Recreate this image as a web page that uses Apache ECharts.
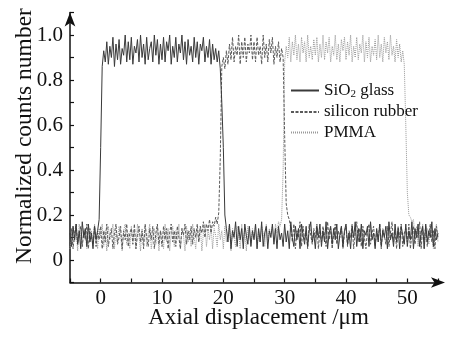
<!DOCTYPE html>
<html>
<head>
<meta charset="utf-8">
<script src="https://cdn.jsdelivr.net/npm/echarts@6/dist/echarts.min.js"></script>
<style>
html, body { margin: 0; padding: 0; background: #fff; }
#chart { width: 453px; height: 337px; }
</style>
</head>
<body>
<div id="chart"></div>
<script>
// sampling grid of the traces (µm)
const xStart = -5
const xStep = 0.25

const seriesNames = ['SiO2 glass', 'silicon rubber', 'PMMA']

// each row = 5 µm (20 samples), last value at 55 µm
const sio2Glass = [
  0.12,0.06,0.15,0.09,0.16,0.07,0.13,0.05,0.17,0.10,0.14,0.06,0.16,0.08,0.12,0.05,0.15,0.09,0.13,0.18,
  0.50,0.86,0.93,0.88,0.97,0.87,0.95,0.90,0.99,0.86,0.96,0.89,0.98,0.87,0.94,0.91,1.00,0.88,0.97,0.89,
  0.99,0.87,0.95,0.92,0.98,0.88,1.00,0.90,0.96,0.87,0.99,0.89,0.94,0.97,0.88,1.00,0.91,0.98,0.87,0.96,
  0.89,0.99,0.88,0.97,0.93,1.00,0.87,0.95,0.90,0.99,0.88,0.96,0.92,1.00,0.89,0.97,0.87,0.98,0.91,0.95,
  0.88,0.99,0.90,0.97,0.87,0.96,0.93,0.99,0.88,0.95,0.90,0.98,0.87,0.96,0.89,0.94,0.88,0.93,0.85,0.70,
  0.50,0.20,0.14,0.08,0.16,0.05,0.13,0.10,0.17,0.06,0.15,0.09,0.14,0.05,0.16,0.11,0.07,0.15,0.06,0.13,
  0.09,0.16,0.05,0.14,0.08,0.17,0.06,0.12,0.15,0.05,0.13,0.10,0.16,0.07,0.14,0.05,0.15,0.09,0.12,0.06,
  0.16,0.08,0.13,0.05,0.17,0.10,0.06,0.15,0.09,0.14,0.05,0.16,0.11,0.07,0.15,0.06,0.13,0.17,0.08,0.12,
  0.05,0.15,0.10,0.16,0.06,0.13,0.08,0.17,0.05,0.12,0.15,0.07,0.14,0.09,0.16,0.05,0.11,0.15,0.06,0.13,
  0.16,0.07,0.12,0.05,0.15,0.10,0.17,0.06,0.14,0.08,0.16,0.05,0.13,0.11,0.15,0.06,0.17,0.09,0.12,0.05,
  0.14,0.08,0.16,0.06,0.13,0.10,0.15,0.05,0.17,0.09,0.12,0.06,0.16,0.08,0.14,0.05,0.15,0.11,0.07,0.16,
  0.06,0.13,0.09,0.17,0.05,0.14,0.10,0.16,0.06,0.12,0.15,0.05,0.16,0.08,0.13,0.10,0.17,0.06,0.14,0.09,
  0.12
]

const siliconRubber = [
  0.08,0.14,0.05,0.12,0.16,0.07,0.11,0.15,0.06,0.13,0.09,0.16,0.05,0.14,0.10,0.07,0.15,0.06,0.12,0.09,
  0.15,0.05,0.13,0.08,0.16,0.06,0.11,0.14,0.05,0.12,0.16,0.07,0.10,0.15,0.05,0.13,0.09,0.16,0.06,0.12,
  0.14,0.07,0.16,0.05,0.11,0.15,0.08,0.13,0.05,0.16,0.10,0.06,0.14,0.09,0.15,0.05,0.12,0.16,0.07,0.13,
  0.06,0.15,0.09,0.14,0.05,0.12,0.16,0.08,0.13,0.06,0.15,0.10,0.05,0.14,0.11,0.16,0.07,0.13,0.09,0.15,
  0.07,0.14,0.10,0.16,0.08,0.15,0.12,0.17,0.10,0.16,0.13,0.18,0.12,0.17,0.15,0.19,0.16,0.21,0.45,0.86,
  0.90,0.85,0.93,0.87,0.96,0.89,0.99,0.88,0.95,0.91,1.00,0.87,0.97,0.90,0.99,0.88,0.96,0.92,1.00,0.89,
  0.97,0.88,0.99,0.91,0.95,0.87,1.00,0.90,0.96,0.88,0.98,0.92,0.99,0.87,0.95,0.90,0.97,0.88,0.94,0.90,
  0.55,0.25,0.20,0.18,0.14,0.08,0.16,0.05,0.13,0.10,0.17,0.06,0.15,0.09,0.12,0.05,0.16,0.11,0.07,0.14,
  0.10,0.16,0.05,0.13,0.08,0.15,0.11,0.06,0.17,0.09,0.14,0.05,0.12,0.16,0.07,0.13,0.10,0.15,0.05,0.12,
  0.15,0.06,0.13,0.10,0.16,0.05,0.12,0.17,0.08,0.14,0.06,0.15,0.10,0.05,0.13,0.16,0.07,0.12,0.15,0.06,
  0.13,0.09,0.16,0.05,0.14,0.11,0.07,0.15,0.06,0.12,0.17,0.08,0.13,0.05,0.15,0.10,0.16,0.06,0.12,0.14,
  0.08,0.16,0.05,0.12,0.15,0.07,0.13,0.10,0.17,0.05,0.14,0.09,0.15,0.06,0.12,0.16,0.08,0.13,0.05,0.15,
  0.10
]

const pmma = [
  0.05,0.11,0.15,0.08,0.13,0.04,0.16,0.10,0.06,0.14,0.12,0.05,0.15,0.09,0.13,0.06,0.16,0.11,0.05,0.14,
  0.10,0.16,0.06,0.13,0.04,0.15,0.09,0.12,0.16,0.05,0.14,0.08,0.15,0.11,0.04,0.13,0.16,0.07,0.12,0.05,
  0.15,0.09,0.13,0.05,0.16,0.11,0.04,0.14,0.08,0.15,0.06,0.12,0.16,0.05,0.10,0.14,0.07,0.15,0.04,0.13,
  0.11,0.05,0.16,0.08,0.14,0.04,0.12,0.15,0.06,0.13,0.09,0.16,0.05,0.14,0.11,0.04,0.15,0.08,0.13,0.06,
  0.16,0.10,0.05,0.14,0.08,0.15,0.04,0.12,0.16,0.06,0.13,0.09,0.15,0.05,0.14,0.11,0.06,0.16,0.09,0.13,
  0.05,0.15,0.08,0.12,0.16,0.04,0.14,0.10,0.06,0.15,0.12,0.05,0.16,0.09,0.13,0.04,0.15,0.11,0.07,0.14,
  0.10,0.16,0.05,0.13,0.08,0.15,0.12,0.06,0.16,0.09,0.14,0.11,0.15,0.08,0.16,0.12,0.17,0.15,0.18,0.40,
  0.88,0.95,0.90,0.99,0.88,0.97,0.91,1.00,0.89,0.96,0.88,0.99,0.92,0.97,0.88,1.00,0.90,0.95,0.89,0.98,
  0.91,0.99,0.88,0.96,0.90,1.00,0.89,0.97,0.92,0.99,0.88,0.95,0.91,1.00,0.89,0.96,0.88,0.98,0.93,0.99,
  0.89,0.97,0.91,1.00,0.88,0.95,0.90,0.99,0.89,0.96,0.92,1.00,0.88,0.97,0.90,0.99,0.88,0.95,0.91,0.98,
  0.89,1.00,0.90,0.96,0.88,0.99,0.92,0.97,0.89,1.00,0.91,0.95,0.88,0.98,0.90,0.96,0.88,0.93,0.87,0.60,
  0.30,0.20,0.19,0.17,0.18,0.10,0.15,0.06,0.13,0.09,0.16,0.05,0.12,0.14,0.07,0.15,0.10,0.05,0.13,0.16,
  0.08
]

const FONT = '"Liberation Serif", "DejaVu Serif", serif'

const toPoints = values => values.map((v, i) => [xStart + i * xStep, v])

const lineSeries = (name, values, color, type, z) => ({
  name,
  type: 'line',
  symbol: 'none',
  z,
  lineStyle: { color, width: 1, type },
  itemStyle: { color },
  data: toPoints(values)
})

const chart = echarts.init(document.getElementById('chart'))

chart.setOption({
  animation: false,
  backgroundColor: '#fff',
  grid: { left: 70, right: 15, top: 12.5, bottom: 54.5, outerBoundsMode: 'none' },
  legend: {
    orient: 'vertical',
    left: 290,
    top: 82,
    padding: 0,
    itemWidth: 28,
    itemHeight: 14,
    itemGap: 3.5,
    data: seriesNames,
    itemStyle: { opacity: 0 },
    formatter: name => (name === 'SiO2 glass' ? 'SiO{sub|2} glass' : name),
    textStyle: {
      fontFamily: FONT,
      fontSize: 17,
      color: '#111',
      rich: {
        sub: { fontFamily: FONT, fontSize: 11, color: '#111', verticalAlign: 'bottom', padding: [8, 0, 0, 0] }
      }
    }
  },
  xAxis: {
    type: 'value',
    min: -5,
    max: 55,
    interval: 5,
    name: 'Axial displacement /μm',
    nameLocation: 'middle',
    nameGap: 24,
    nameMoveOverlap: false,
    nameTextStyle: { fontFamily: FONT, fontSize: 23, color: '#111', padding: [0, 0, 0, 9] },
    splitLine: { show: false },
    axisLine: {
      onZero: false,
      lineStyle: { color: '#111', width: 1.5 },
      symbol: ['none', 'arrow'],
      symbolSize: [8, 14],
      symbolOffset: [0, 7]
    },
    axisTick: { inside: true, length: 4, lineStyle: { color: '#111', width: 1.2 } },
    axisLabel: {
      margin: 5,
      fontFamily: FONT,
      fontSize: 21,
      color: '#111',
      formatter: v => (v % 10 === 0 ? String(v) : '')
    }
  },
  yAxis: {
    type: 'value',
    min: -0.1,
    max: 1.1,
    interval: 0.1,
    name: 'Normalized counts number',
    nameLocation: 'middle',
    nameGap: 33,
    nameMoveOverlap: false,
    nameTextStyle: { fontFamily: FONT, fontSize: 23.5, color: '#111', padding: [0, 0, 0, 23] },
    splitLine: { show: false },
    axisLine: {
      onZero: false,
      lineStyle: { color: '#111', width: 1.5 },
      symbol: ['none', 'arrow'],
      symbolSize: [8, 14],
      symbolOffset: [0, 0]
    },
    axisTick: { inside: true, length: 4, lineStyle: { color: '#111', width: 1.2 } },
    axisLabel: {
      margin: 7,
      fontFamily: FONT,
      fontSize: 21,
      color: '#111',
      formatter: v => {
        const k = Math.round(v * 10)
        if (k < 0 || k % 2 !== 0 || k > 10) return ''
        return k === 0 ? '0' : (k / 10).toFixed(1)
      }
    }
  },
  series: [
    lineSeries(seriesNames[2], pmma, '#999999', [1, 1], 2),
    lineSeries(seriesNames[1], siliconRubber, '#5a5a5a', [3, 1.5], 3),
    lineSeries(seriesNames[0], sio2Glass, '#3a3a3a', 'solid', 4)
  ]
})
</script>
</body>
</html>
